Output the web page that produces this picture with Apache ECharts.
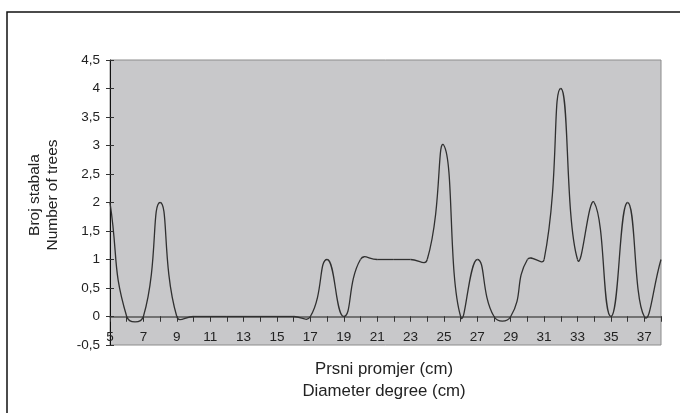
<!DOCTYPE html>
<html>
<head>
<meta charset="utf-8">
<title>Broj stabala po prsnom promjeru</title>
<script src="https://cdn.jsdelivr.net/npm/echarts@6/dist/echarts.min.js"></script>
<style>
  html, body { margin: 0; padding: 0; background: #ffffff; }
  #chart { width: 680px; height: 413px; }
</style>
</head>
<body>
<div id="chart"></div>
<script>
// Diameter classes (cm) and the number of trees in each class
const diameters = [5, 6, 7, 8, 9, 10, 11, 12, 13, 14, 15, 16, 17, 18, 19, 20, 21,
                   22, 23, 24, 25, 26, 27, 28, 29, 30, 31, 32, 33, 34, 35, 36, 37, 38];
const trees = [2, 0, 0, 2, 0, 0, 0, 0, 0, 0, 0, 0, 0, 1, 0, 1, 1,
               1, 1, 1, 3, 0, 1, 0, 0, 1, 1, 4, 1, 2, 0, 2, 0, 1];

// Axis ranges
const xMin = 5, xMax = 38, xStep = 1;
const yMin = -0.5, yMax = 4.5, yStep = 0.5;

// Axis titles
const yTitle = ['Broj stabala', 'Number of trees'];
const xTitle = ['Prsni promjer (cm)', 'Diameter degree (cm)'];

const FONT = '"Liberation Sans", Arial, sans-serif';
const SMOOTH = 0.5;
const points = diameters.map((d, i) => [d, trees[i]]);
const n = points.length;

// Smoothed curve segment between point i and i+1; the control points follow
// the neighbouring points (free, unclamped tangents so the curve may overshoot).
function renderSegment(params, api) {
  const i = params.dataIndex;
  if (i >= n - 1) return null;
  const P = k => api.coord(points[Math.max(0, Math.min(n - 1, k))]);
  const ctrl = (k, outgoing) => {
    const cur = P(k);
    const prev = k > 0 ? P(k - 1) : cur;
    const next = k < n - 1 ? P(k + 1) : cur;
    const vx = next[0] - prev[0], vy = next[1] - prev[1];
    const lp = Math.hypot(cur[0] - prev[0], cur[1] - prev[1]);
    const ln = Math.hypot(next[0] - cur[0], next[1] - cur[1]);
    const sum = lp + ln;
    if (outgoing) {
      const r = sum ? ln / sum : 0.5;
      return [cur[0] + vx * SMOOTH * r, cur[1] + vy * SMOOTH * r];
    }
    const r = sum ? lp / sum : 0.5;
    return [cur[0] - vx * SMOOTH * r, cur[1] - vy * SMOOTH * r];
  };
  const a = P(i), b = P(i + 1);
  const c1 = ctrl(i, true), c2 = ctrl(i + 1, false);
  return {
    type: 'bezierCurve',
    shape: { x1: a[0], y1: a[1], x2: b[0], y2: b[1],
             cpx1: c1[0], cpy1: c1[1], cpx2: c2[0], cpy2: c2[1] },
    style: { stroke: '#303030', lineWidth: 1.3, fill: null }
  };
}

const chart = echarts.init(document.getElementById('chart'), null, { renderer: 'canvas' });

const tickStyle = { color: '#333333', width: 1 };

const option = {
  animation: false,
  backgroundColor: '#ffffff',
  grid: {
    left: 110, top: 60, width: 551, height: 285,
    show: true,
    backgroundColor: '#c8c8ca',
    borderColor: '#8c8c8c',
    borderWidth: 1
  },
  xAxis: [
    {
      // zero line with the lower half of the ticks
      type: 'value', min: xMin, max: xMax, interval: xStep,
      axisLine: { onZero: true, lineStyle: { color: '#555555', width: 1.5 } },
      axisTick: { show: true, inside: false, length: 5, lineStyle: tickStyle },
      axisLabel: { show: false },
      splitLine: { show: false }
    },
    {
      // upper half of the ticks on the zero line
      type: 'value', min: xMin, max: xMax, interval: xStep,
      axisLine: { show: false, onZero: true },
      axisTick: { show: true, inside: true, length: 5, lineStyle: tickStyle },
      axisLabel: { show: false },
      splitLine: { show: false }
    },
    {
      // tick labels along the bottom edge of the plot
      type: 'value', min: xMin, max: xMax, interval: xStep,
      position: 'bottom',
      axisLine: { show: false, onZero: false },
      axisTick: { show: false },
      axisLabel: {
        inside: true, margin: 1,
        color: '#222222', fontFamily: FONT, fontSize: 13.5,
        formatter: v => (v % 2 === 1 ? String(v) : '')
      },
      splitLine: { show: false }
    }
  ],
  yAxis: [
    {
      type: 'value', min: yMin, max: yMax, interval: yStep,
      axisLine: { show: true, onZero: false, lineStyle: { color: '#111111', width: 1 } },
      axisTick: { show: true, inside: false, length: 4, lineStyle: tickStyle },
      axisLabel: {
        margin: 10,
        color: '#222222', fontFamily: FONT, fontSize: 13.5,
        formatter: v => String(Math.round(v * 10) / 10).replace('.', ',')
      },
      splitLine: { show: false }
    },
    {
      type: 'value', min: yMin, max: yMax, interval: yStep,
      position: 'left', offset: 0,
      axisLine: { show: false, onZero: false },
      axisTick: { show: true, inside: true, length: 4, lineStyle: tickStyle },
      axisLabel: { show: false },
      splitLine: { show: false }
    }
  ],
  series: [
    {
      type: 'custom',
      xAxisIndex: 0, yAxisIndex: 0,
      data: points,
      encode: { x: 0, y: 1 },
      renderItem: renderSegment,
      clip: false,
      z: 5
    }
  ],
  graphic: [
    {
      type: 'rect', silent: true, z: -1,
      shape: { x: 7, y: 12, width: 720, height: 460 },
      style: { fill: 'none', stroke: '#111111', lineWidth: 1.5 }
    },
    {
      type: 'text', x: 35, y: 195, rotation: Math.PI / 2,
      style: { text: yTitle[0], fontFamily: FONT, fontSize: 15.5, fill: '#222222',
               textAlign: 'center', textVerticalAlign: 'middle' }
    },
    {
      type: 'text', x: 53, y: 195, rotation: Math.PI / 2,
      style: { text: yTitle[1], fontFamily: FONT, fontSize: 15.5, fill: '#222222',
               textAlign: 'center', textVerticalAlign: 'middle' }
    },
    {
      type: 'text', x: 384, y: 369,
      style: { text: xTitle[0], fontFamily: FONT, fontSize: 16.8, fill: '#222222',
               textAlign: 'center', textVerticalAlign: 'middle' }
    },
    {
      type: 'text', x: 384, y: 391,
      style: { text: xTitle[1], fontFamily: FONT, fontSize: 16.8, fill: '#222222',
               textAlign: 'center', textVerticalAlign: 'middle' }
    }
  ]
};

chart.setOption(option);
</script>
</body>
</html>
